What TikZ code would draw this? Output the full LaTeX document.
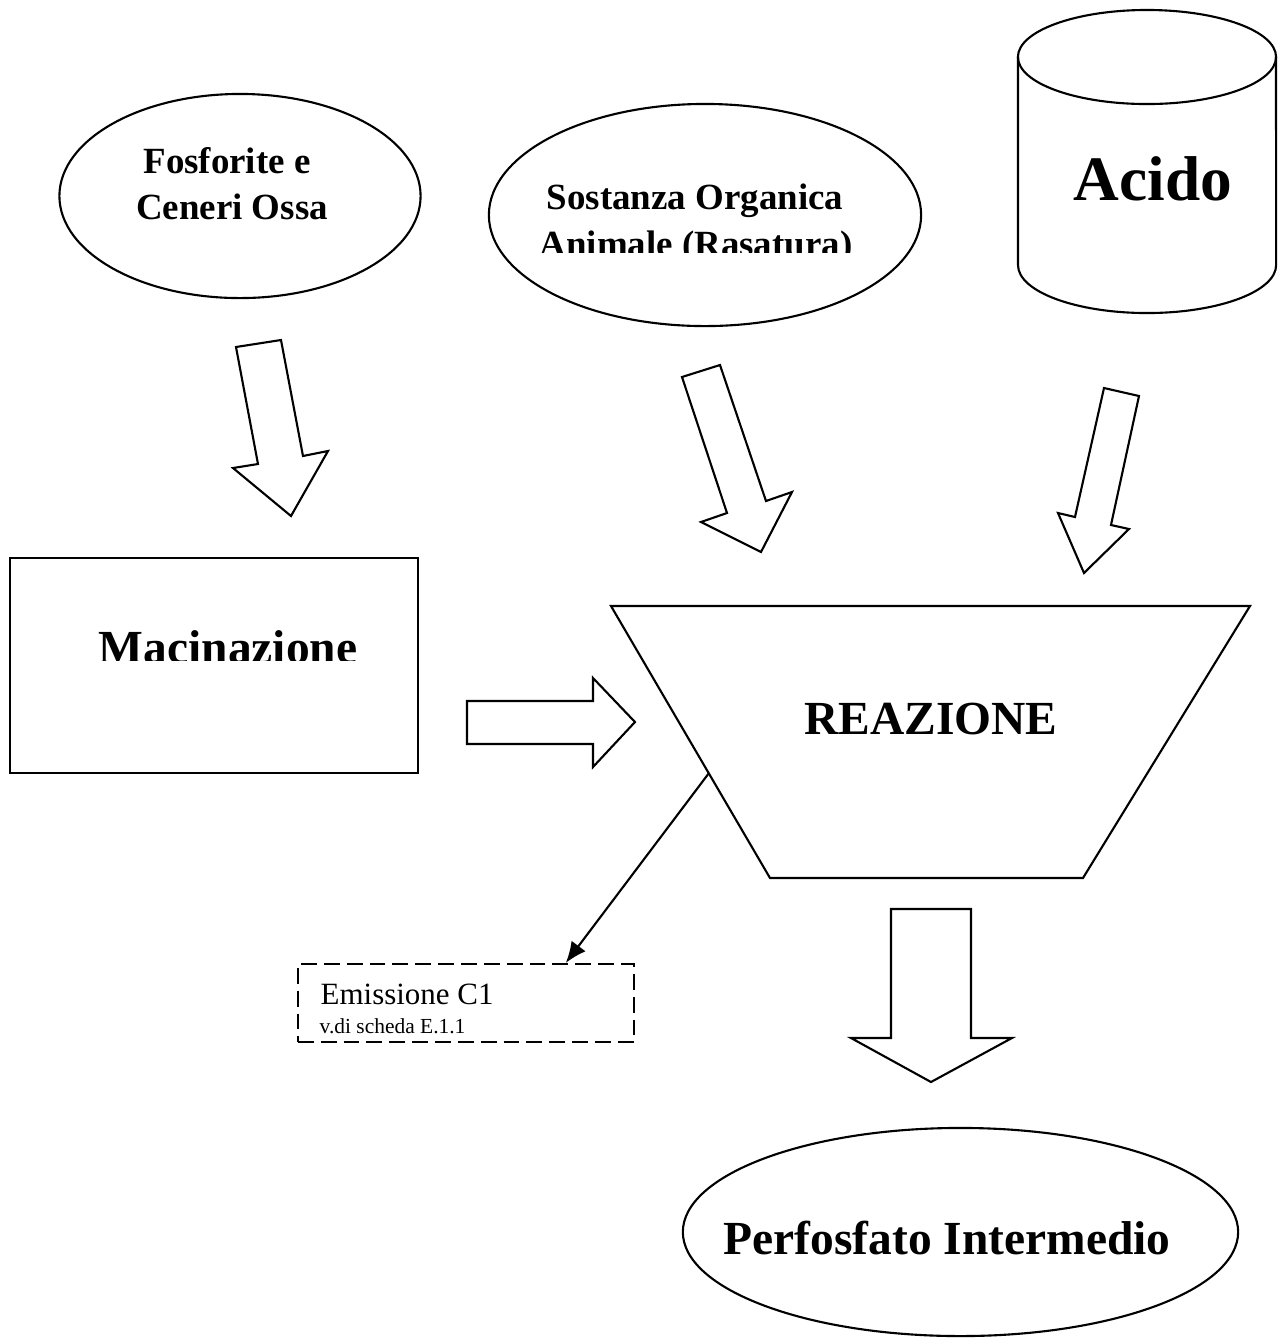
\documentclass[tikz,border=0pt]{standalone}
\usepackage{fontspec}
\setmainfont{Liberation Serif}
\usetikzlibrary{shapes.geometric, arrows.meta, calc}

\tikzset{
  outline/.style={draw, line width=0.6pt},
  material/.style={outline, ellipse, inner sep=0pt},
  blockarrow/.style={outline, fill=white, line join=miter},
  midlabel/.style={font=\fontsize{10.5}{13}\selectfont\bfseries, anchor=base, inner sep=0pt},
  biglabel/.style={font=\fontsize{13.5}{16}\selectfont\bfseries, anchor=base, inner sep=0pt},
}

\begin{document}
\begin{tikzpicture}[x=0.01cm, y=-0.01cm]
  \useasboundingbox (0,0) rectangle (1285,1338);

  % materie prime
  \node[material, minimum width=3.61cm, minimum height=2.04cm] (fosf) at (240,196) {};
  \node[midlabel] (fosf-a) at (227,173) {Fosforite e};
  \node[midlabel] (fosf-b) at (232,219) {Ceneri Ossa};

  \node[material, minimum width=4.32cm, minimum height=2.22cm] (sost) at (705,215) {};
  \node[midlabel] (sost-a) at (695,209) {Sostanza Organica};
  \begin{scope}
    \clip (480,100) rectangle (930,252);
    \node[midlabel] (sost-b) at (696,256) {Animale (Rasatura)};
  \end{scope}

  % serbatoio acido
  \draw[outline] (1147,57) ellipse [x radius=1.29cm, y radius=0.47cm];
  \draw[outline] (1018,57) -- (1018,265)
    arc[start angle=180, end angle=360, x radius=1.29cm, y radius=0.48cm] -- (1276,57);
  \node[font=\fontsize{18}{20}\selectfont\bfseries, anchor=base, inner sep=0pt] (acido) at (1153,200) {Acido};

  % frecce di alimentazione
  \draw[blockarrow] (236,347) -- (281,340) -- (303,456) -- (328,451) -- (291,516) -- (233,468) -- (258,464) -- cycle;
  \draw[blockarrow] (682,377) -- (720,365) -- (766,501) -- (792,492) -- (761,552) -- (701,522) -- (727,513) -- cycle;
  \draw[blockarrow] (1104,388) -- (1139,396) -- (1111,525) -- (1129,529) -- (1084,573) -- (1058,513) -- (1075,517) -- cycle;

  % macinazione
  \node[outline, minimum width=4.08cm, minimum height=2.15cm, inner sep=0pt] (macin) at (214,665.5) {};
  \begin{scope}
    \clip (20,600) rectangle (400,660);
    \node[biglabel] (macin-t) at (228,663) {Macinazione};
  \end{scope}
  \draw[blockarrow] (467,701) -- (593,701) -- (593,678) -- (635,722) -- (593,767) -- (593,744) -- (467,744) -- cycle;

  % reazione
  \coordinate (reaz-tl) at (611,606);
  \coordinate (reaz-tr) at (1250,606);
  \coordinate (reaz-br) at (1083,878);
  \coordinate (reaz-bl) at (770,878);
  \draw[outline] (reaz-tl) -- (reaz-tr) -- (reaz-br) -- (reaz-bl) -- cycle;
  \node[biglabel] (reaz) at (931,734) {REAZIONE};

  % emissione
  \node[outline, dash pattern=on 4.5pt off 2pt, minimum width=3.36cm, minimum height=0.78cm, inner sep=0pt] (emis) at (466,1003) {};
  \node[font=\fontsize{8.8}{10}\selectfont, anchor=base west, inner sep=0pt] (emis-a) at (320,1004) {Emissione C1};
  \node[font=\fontsize{6.1}{7}\selectfont, anchor=base west, inner sep=0pt] (emis-b) at (319,1033) {v.di scheda E.1.1};
  \coordinate (reaz-out) at ($(reaz-tl)!0.615!(reaz-bl)$);
  \draw[line width=0.6pt, -{Latex[length=6pt, width=5pt]}] (reaz-out) -- ($(emis.north west)!0.795!(emis.north east)$);

  % prodotto
  \draw[blockarrow] (891,909) -- (971,909) -- (971,1038) -- (1012,1038) -- (931,1082) -- (851,1038) -- (891,1038) -- cycle;
  \node[material, minimum width=5.55cm, minimum height=2.08cm] (perf) at (960.5,1232) {};
  \node[biglabel] (perf-t) at (947,1254) {Perfosfato Intermedio};
\end{tikzpicture}
\end{document}
